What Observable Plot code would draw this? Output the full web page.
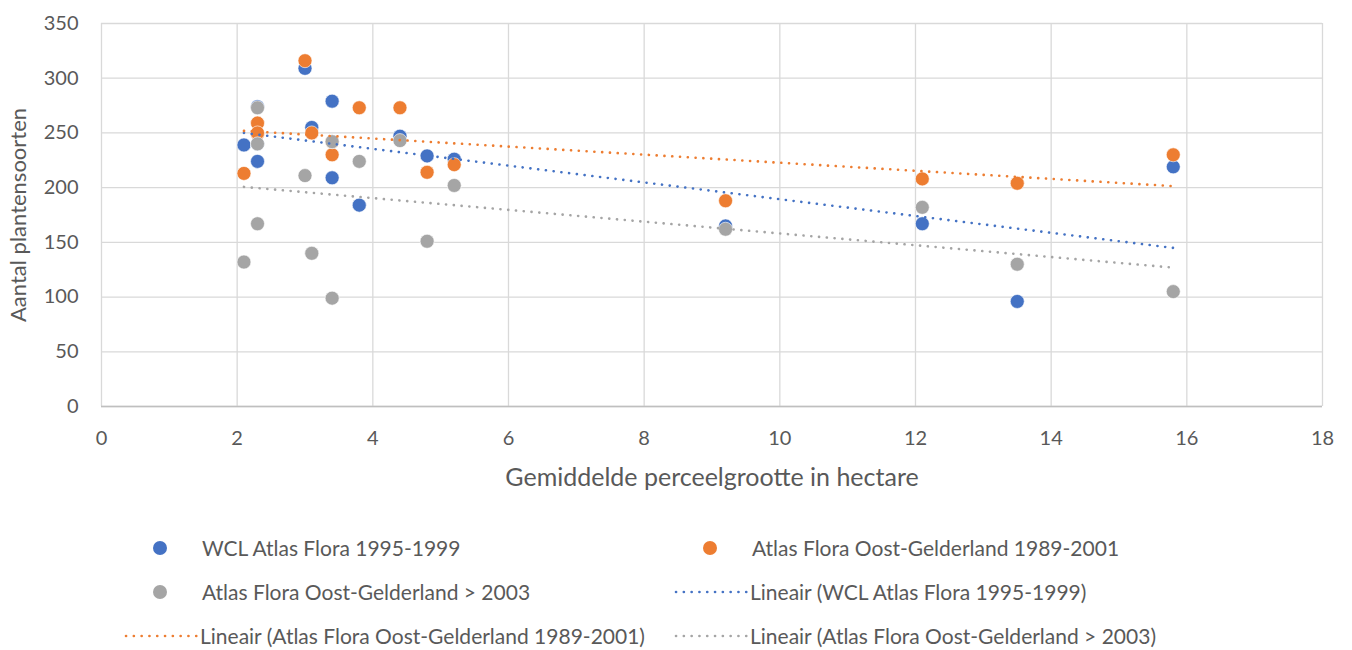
<!DOCTYPE html>
<html>
<head>
<meta charset="utf-8">
<script src="https://cdn.jsdelivr.net/npm/d3@7"></script>
<script src="https://cdn.jsdelivr.net/npm/@observablehq/plot@0.6"></script>
<style>
  html, body { margin: 0; padding: 0; background: #fff; }
  #wrap { position: relative; width: 1352px; height: 650px; font-family: Lato, "Open Sans", sans-serif; color: #595959; }
  .lg { position: absolute; font-size: 21px; line-height: 24px; white-space: nowrap; }
  .lg svg { position: absolute; }
</style>
</head>
<body>
<div id="wrap"></div>
<script>
// ---- data ----
const sizes = [2.1, 2.3, 2.3, 2.3, 3.0, 3.1, 3.4, 3.4, 3.8, 4.4, 4.8, 5.2, 9.2, 12.1, 13.5, 15.8];
const wcl = [239, 274, 240, 224, 309, 255, 279, 209, 184, 247, 229, 226, 165, 167, 96, 219];
const oost8901 = [213, 259, 249, 250, 316, 250, 230, 242, 273, 273, 214, 221, 188, 208, 204, 230];
const oost2003 = [132, 273, 240, 167, 211, 140, 242, 99, 224, 243, 151, 202, 162, 182, 130, 105];
const seriesNames = ["WCL Atlas Flora 1995-1999", "Atlas Flora Oost-Gelderland 1989-2001", "Atlas Flora Oost-Gelderland > 2003"];
const colors = ["#4472C4", "#ED7D31", "#A5A5A5"];
const xTicks = [0, 2, 4, 6, 8, 10, 12, 14, 16, 18];
const yTicks = [0, 50, 100, 150, 200, 250, 300, 350];

const seriesVals = [wcl, oost8901, oost2003];
const rows = seriesVals.map((vals, s) => vals.map((v, i) => ({series: seriesNames[s], x: sizes[i], y: v})));

const dotted = {strokeWidth: 2.6, strokeDasharray: "0.1,7.7", strokeLinecap: "round"};

const chart = Plot.plot({
  width: 1352,
  height: 500,
  marginLeft: 101,
  marginRight: 30,
  marginTop: 23,
  marginBottom: 94,
  style: {fontFamily: "Lato, 'Open Sans', sans-serif", fontSize: "20px", color: "#595959", background: "#fff"},
  x: {domain: [0, 18]},
  y: {domain: [0, 350]},
  marks: [
    Plot.gridX(xTicks, {stroke: "#D9D9D9", strokeOpacity: 1, strokeWidth: 1.3}),
    Plot.gridY(yTicks, {stroke: "#D9D9D9", strokeOpacity: 1, strokeWidth: 1.3}),
    Plot.ruleY([0], {stroke: "#BFBFBF", strokeWidth: 1.3}),
    Plot.axisX(xTicks, {tickSize: 0, tickPadding: 24, fill: "#595959", fontSize: 20, label: null}),
    Plot.axisY(yTicks, {tickSize: 0, tickPadding: 23, fill: "#595959", fontSize: 20, label: null}),
    Plot.text(["Gemiddelde perceelgrootte in hectare"], {
      frameAnchor: "bottom", dy: 71, text: d => d, fontSize: 25, fill: "#595959", lineAnchor: "middle"}),
    Plot.text(["Aantal plantensoorten"], {
      frameAnchor: "left", dx: -83, rotate: -90, text: d => d, fontSize: 22, fill: "#595959",
      textAnchor: "middle", lineAnchor: "middle"}),
    ...rows.map((r, s) => Plot.dot(r, {x: "x", y: "y", r: 7, fill: colors[s], stroke: "white", strokeWidth: 0.6})),
    ...rows.map((r, s) => Plot.linearRegressionY(r, {x: "x", y: "y", stroke: colors[s], ci: 0, ...dotted}))
  ]
});

const wrap = document.getElementById("wrap");
chart.style.position = "absolute";
chart.style.left = "0px";
chart.style.top = "0px";
wrap.appendChild(chart);

// ---- legend ----
const legendItems = [
  {type: "dot", color: colors[0], label: seriesNames[0], x: 160, y: 548, tx: 202},
  {type: "dot", color: colors[1], label: seriesNames[1], x: 710, y: 548, tx: 752},
  {type: "dot", color: colors[2], label: seriesNames[2], x: 160, y: 592, tx: 202},
  {type: "line", color: colors[0], label: "Lineair (" + seriesNames[0] + ")", x: 674, y: 592, tx: 750},
  {type: "line", color: colors[1], label: "Lineair (" + seriesNames[1] + ")", x: 124, y: 636, tx: 200},
  {type: "line", color: colors[2], label: "Lineair (" + seriesNames[2] + ")", x: 674, y: 636, tx: 750}
];
for (const it of legendItems) {
  const sw = document.createElementNS("http://www.w3.org/2000/svg", "svg");
  const sel = d3.select(sw);
  if (it.type === "dot") {
    sel.attr("width", 20).attr("height", 20).style("position", "absolute")
      .style("left", (it.x - 10) + "px").style("top", (it.y - 10) + "px");
    sel.append("circle").attr("cx", 10).attr("cy", 10).attr("r", 7).attr("fill", it.color);
  } else {
    sel.attr("width", 76).attr("height", 10).style("position", "absolute")
      .style("left", it.x + "px").style("top", (it.y - 5) + "px");
    sel.append("line").attr("x1", 2).attr("x2", 74).attr("y1", 5).attr("y2", 5)
      .attr("stroke", it.color).attr("stroke-width", 2.6)
      .attr("stroke-dasharray", "0.1,7.7").attr("stroke-linecap", "round");
  }
  wrap.appendChild(sw);
  const t = document.createElement("div");
  t.className = "lg";
  t.textContent = it.label;
  t.style.left = it.tx + "px";
  t.style.top = (it.y - 12) + "px";
  wrap.appendChild(t);
}
</script>
</body>
</html>
